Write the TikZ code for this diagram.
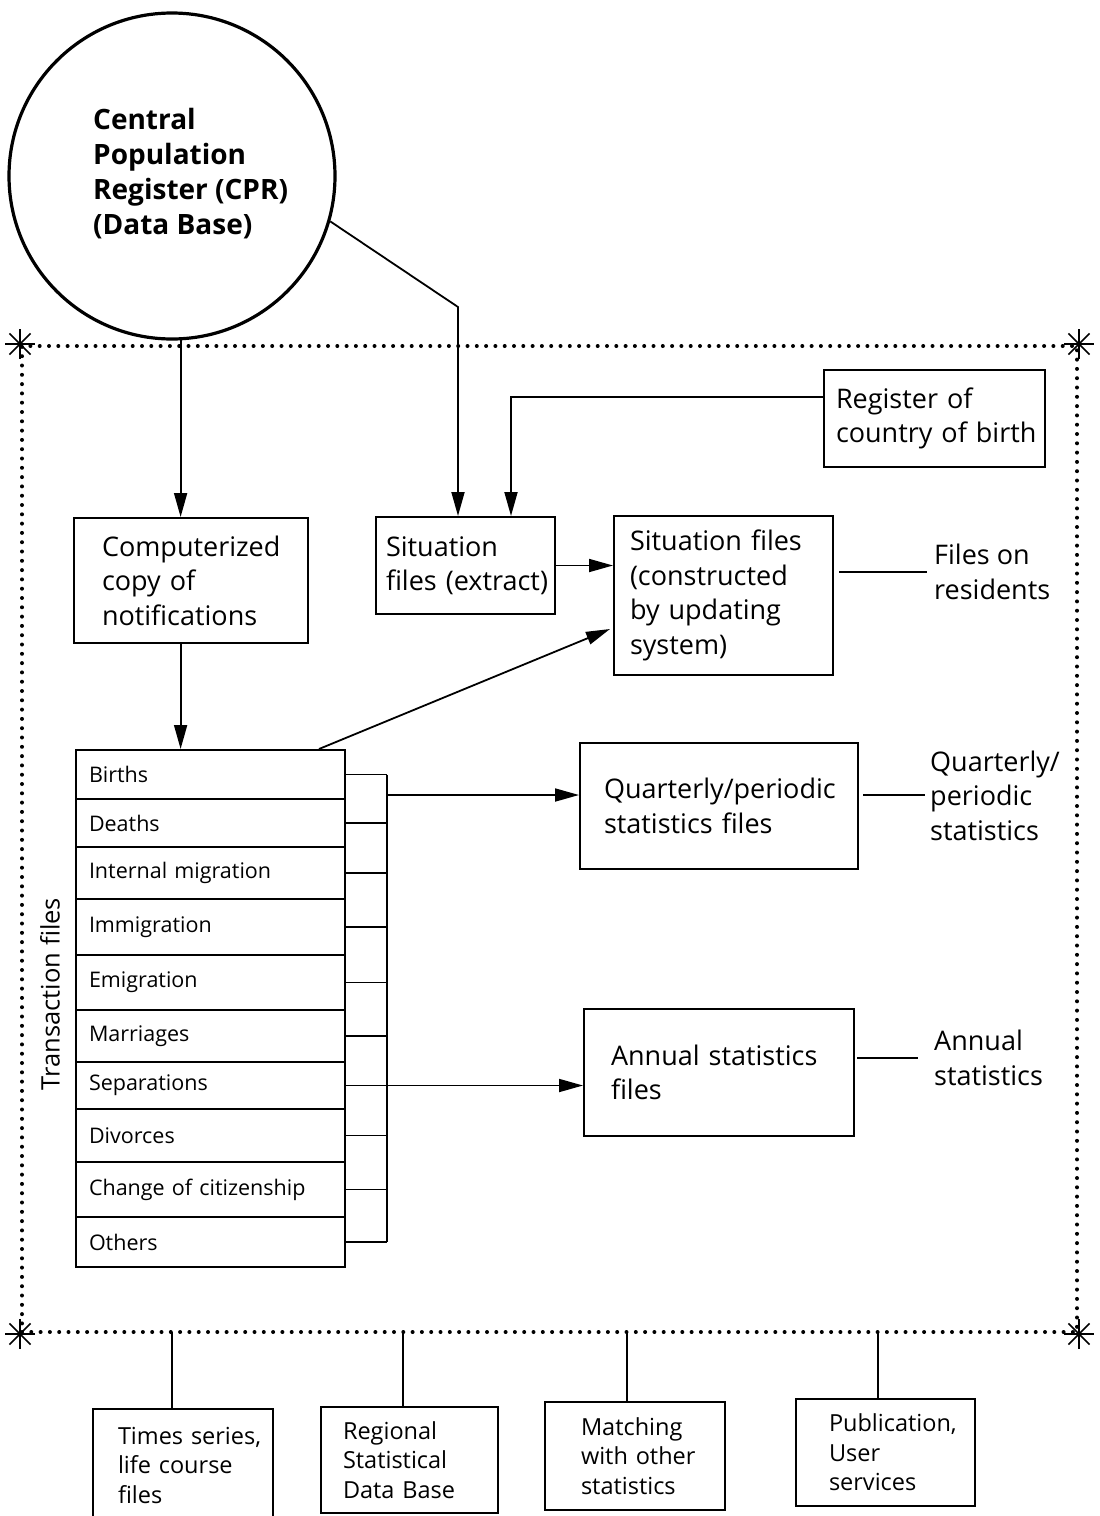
\documentclass[tikz,border=0pt]{standalone}
\usepackage{fontspec}
\setmainfont{Open Sans}
\usetikzlibrary{arrows.meta,calc}
\newcommand\fbig{\fontsize{27}{34.5}\selectfont\hyphenpenalty=10000 }
\newcommand\fcirc{\fontsize{28}{34.7}\selectfont\bfseries\hyphenpenalty=10000 }
\newcommand\frow{\fontsize{21.5}{26}\selectfont\hyphenpenalty=10000 }
\newcommand\fbot{\fontsize{23.5}{29.5}\selectfont\hyphenpenalty=10000 }
\begin{document}
\begin{tikzpicture}[x=1pt,y=-1pt]
\useasboundingbox (0,0) rectangle (1100,1516);
\tikzset{
 ln/.style={line width=1.8pt},
 arr/.style={ln,-{Triangle[length=24pt,width=13pt]}},
 box/.style={draw,line width=2pt,align=left,inner ysep=0pt,font=\fbig},
 botbox/.style={draw,line width=2pt,align=left,inner ysep=0pt,font=\fbot},
 rowbox/.style={draw,line width=2pt,align=left,inner ysep=0pt,inner xsep=13pt,text width=243pt,minimum width=269pt,font=\frow},
 lab/.style={align=left,font=\fbig,inner sep=0pt,anchor=base west},
 dots/.style={line width=4pt,dash pattern=on 0pt off 9.3pt,line cap=round},
 star/.style={line width=1.6pt},
}
% dotted frame
\node[draw,dots,minimum width=1055pt,minimum height=986pt,inner sep=0pt] (frame) at (549.5,839) {};
\foreach \c in {north west,north east,south west,south east}{
  \foreach \a in {0,45,...,315}{\draw[star] (frame.\c) -- ++(\a:15pt);}
}
% circle
\node[circle,draw,line width=3.2pt,minimum size=326pt,inner sep=0pt] (cpr) at (172,176) {};
\node[lab,font=\fcirc] (cprt) at (93,234) {Central\\Population\\Register~(CPR)\\(Data~Base)};
% boxes
\node[box,minimum width=234pt,minimum height=125pt,text width=178pt,inner xsep=28pt] (comp) at (191,580.5) {Computerized\\copy~of\\notifications};
\node[box,minimum width=179pt,minimum height=97pt,text width=159pt,inner xsep=10pt] (sx) at (465.5,565.5) {Situation\\files~(extract)};
\node[box,minimum width=221pt,minimum height=97pt,text width=197pt,inner xsep=12pt] (reg) at (934.5,418.5) {Register~of\\country~of~birth};
\node[box,minimum width=219pt,minimum height=159pt,text width=187pt,inner xsep=16pt] (cons) at (723.5,595.5) {Situation~files\\(constructed\\by~updating\\system)};
\node[box,minimum width=278pt,minimum height=126pt,text width=230pt,inner xsep=24pt] (Q) at (719,806) {Quarterly/periodic\\statistics~files};
\node[box,minimum width=270pt,minimum height=127pt,text width=216pt,inner xsep=27pt] (A) at (719,1072.5) {Annual~statistics\\files};
% side labels
\node[lab] (fr) at (934,599) {Files~on\\residents};
\node[lab] (ql) at (930,840) {Quarterly/\\periodic\\statistics};
\node[lab] (al) at (934,1085) {Annual\\statistics};
\draw[ln,shorten <=5pt,shorten >=7pt] (fr.west -| cons.east) -- (fr.west);
\draw[ln,shorten <=4pt,shorten >=5pt] (ql.west -| Q.east) -- (ql.west);
\draw[ln,shorten <=2pt,shorten >=16pt] (al.west -| A.east) -- (al.west);
% transaction rows
\node[rowbox,minimum height=49pt] (r1) at (210.5,774.5) {Births};
\node[rowbox,minimum height=48pt] (r2) at (210.5,823) {Deaths};
\node[rowbox,minimum height=52pt] (r3) at (210.5,873) {Internal~migration};
\node[rowbox,minimum height=56pt] (r4) at (210.5,927) {Immigration};
\node[rowbox,minimum height=55pt] (r5) at (210.5,982.5) {Emigration};
\node[rowbox,minimum height=52pt] (r6) at (210.5,1036) {Marriages};
\node[rowbox,minimum height=47pt] (r7) at (210.5,1085.5) {Separations};
\node[rowbox,minimum height=53pt] (r8) at (210.5,1135.5) {Divorces};
\node[rowbox,minimum height=55pt] (r9) at (210.5,1189.5) {Change~of~citizenship};
\node[rowbox,minimum height=50pt] (r10) at (210.5,1242) {Others};
\node[rotate=90,font=\fontsize{25.5}{30}\selectfont] (tf) at (50,994) {Transaction files};
% comb
\coordinate (cx) at (387,0);
\foreach \i in {1,...,10}{\draw[ln] (r\i.east) -- (r\i.east -| cx);}
\draw[ln] (r1.east -| cx) -- (r10.east -| cx);
\coordinate (qa) at (387,795);
\draw[arr] (qa) -- (qa -| Q.west);
\draw[arr] (r7.east) -- (r7.east -| A.west);
% top connectors
\draw[arr] (cpr.-87) -- (cpr.-87 |- comp.north);
\coordinate (bend) at (458,307);
\draw[arr] (cpr.-16) -- (bend) -- (bend |- sx.north);
\coordinate (rj) at (511,397);
\draw[arr] (rj -| reg.west) -- (rj) -- (rj |- sx.north);
\draw[arr] (sx.east) -- (sx.east -| cons.west);
\draw[arr] (cpr.-87 |- comp.south) -- (cpr.-87 |- r1.north);
\draw[arr] ($(r1.north east)+(-27,0)$) -- ($(cons.south west)+(-3,-47)$);
% bottom boxes
\node[botbox,minimum width=180pt,minimum height=112pt,text width=130pt,inner xsep=25pt] (b1) at (183,1465) {Times~series,\\life~course\\files};
\node[botbox,minimum width=177pt,minimum height=106pt,text width=133pt,inner xsep=22pt] (b2) at (409.5,1460) {Regional\\Statistical\\Data~Base};
\node[botbox,minimum width=180pt,minimum height=108pt,text width=108pt,inner xsep=36pt] (b3) at (635,1456) {Matching\\with~other\\statistics};
\node[botbox,minimum width=179pt,minimum height=107pt,text width=113pt,inner xsep=33pt] (b4) at (885.5,1452.5) {Publication,\\User\\services};
\coordinate (c1) at (172,1332);
\coordinate (c2) at (403,1332);
\coordinate (c3) at (627,1332);
\coordinate (c4) at (878,1332);
\foreach \i in {1,...,4}{\draw[ln] (c\i) -- (c\i |- b\i.north);}
\end{tikzpicture}
\end{document}
